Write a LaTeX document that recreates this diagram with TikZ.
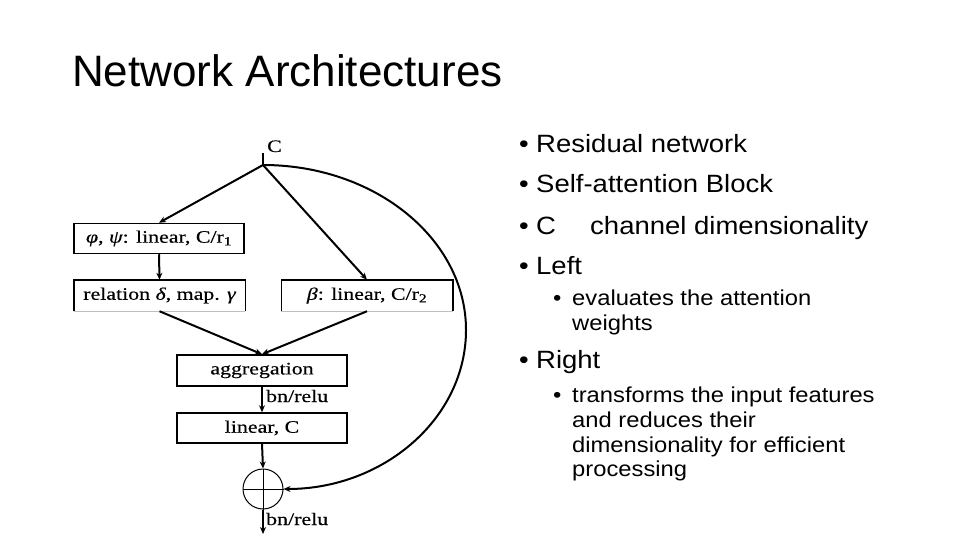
\documentclass[tikz,border=0pt]{standalone}
\usepackage{fontspec}
\setmainfont{Liberation Sans}
\newfontfamily\bulfont[FakeStretch=1.1]{Liberation Sans}
\newfontfamily\diafont[FakeStretch=1.25,FakeBold=0.4]{Liberation Serif}
\usetikzlibrary{arrows.meta}
\tikzset{
  arr/.style={line width=2pt,-{Stealth[length=7pt,width=6pt]}},
  blk/.style={draw,line width=1.5pt,minimum height=30pt,minimum width=170pt,inner sep=0pt,font=\diafont\fontsize{17.5}{20}\selectfont},
  openblk/.style={blk,draw=none},
  lbl/.style={anchor=base west,inner sep=0pt,font=\diafont\fontsize{17.5}{20}\selectfont},
  mainb/.style={anchor=base west,inner sep=0pt,font=\bulfont\fontsize{25}{30}\selectfont},
  subb/.style={anchor=base west,inner sep=0pt,font=\bulfont\fontsize{21.6}{25}\selectfont},
}
\begin{document}
\begin{tikzpicture}[x=1pt,y=-1pt]
\useasboundingbox (0,0) rectangle (960,540);
% title
\node[anchor=base west,inner sep=0pt,font=\fontsize{44}{50}\selectfont] (title) at (72,87) {Network Architectures};
% bullets
\node[mainb] (d1) at (519,153) {•};
\node[mainb] (t1) at (536,153) {Residual network};
\node[mainb] (d2) at (519,193) {•};
\node[mainb] (t2) at (536,193) {Self-attention Block};
\node[mainb] (d3) at (519,234) {•};
\node[mainb] (t3) at (536,234) {C};
\node[mainb] (t3b) at (590,234) {channel dimensionality};
\node[mainb] (d4) at (519,274) {•};
\node[mainb] (t4) at (536,274) {Left};
\node[subb] (d5) at (553,305) {•};
\node[subb] (t5) at (572,305) {evaluates the attention};
\node[subb] (t5b) at (572,330) {weights};
\node[mainb] (d6) at (519,368) {•};
\node[mainb] (t6) at (536,368) {Right};
\node[subb] (d7) at (553,402) {•};
\node[subb] (t7) at (572,402) {transforms the input features};
\node[subb] (t7b) at (572,427) {and reduces their};
\node[subb] (t7c) at (572,452) {dimensionality for efficient};
\node[subb] (t7d) at (572,476) {processing};
% diagram
\coordinate (top) at (263,153);
\coordinate (split) at (263,165);
\node[lbl] (clab) at (267,152) {C};
\draw[line width=1.4pt] (top) -- (split);
\node[blk] (b1) at (159,238.5) {{\itshape φ}, {\itshape ψ}: linear, C/r\textsubscript{1}};
\node[openblk] (b2) at (159.5,295.5) {relation {\itshape δ}, map. {\itshape γ}};
\node[openblk] (b3) at (367,295.5) {{\itshape β}: linear, C/r\textsubscript{2}};
\foreach \b in {b2,b3}{
  \draw[line width=1.5pt] (\b.south west) -- (\b.north west) -- (\b.north east) -- (\b.south east);
  \draw[line width=0.8pt,black!25] (\b.south west) -- (\b.south east);
}
\node[blk,minimum height=31pt] (agg) at (262,370.5) {aggregation};
\node[blk] (lin) at (262,428) {linear, C};
\node[draw,circle,line width=1pt,minimum size=40pt,inner sep=0pt] (sum) at (263,489) {};
\draw[line width=1pt] (sum.north) -- (sum.south) (sum.west) -- (sum.east);
\coordinate (out) at (263,534);
\draw[arr] (split) -- (b1.north);
\draw[arr] (split) -- (b3.north);
\draw[arr] (b1.south) -- (b2.north);
\draw[arr] (b2.south) -- (agg.north);
\draw[arr] (b3.south) -- (agg.north);
\draw[arr] (agg.south) -- (lin.north);
\node[lbl] (bn1) at (266,402) {bn/relu};
\draw[arr] (lin.south) -- (sum.north);
\draw[arr] (sum.south) -- (out);
\node[lbl] (bn2) at (266,525) {bn/relu};
\coordinate (far) at (466,330);
\draw[arr] (split) .. controls (375,165) and (466,239) .. (far) .. controls (466,418) and (384,489) .. (sum.east);
\end{tikzpicture}
\end{document}
